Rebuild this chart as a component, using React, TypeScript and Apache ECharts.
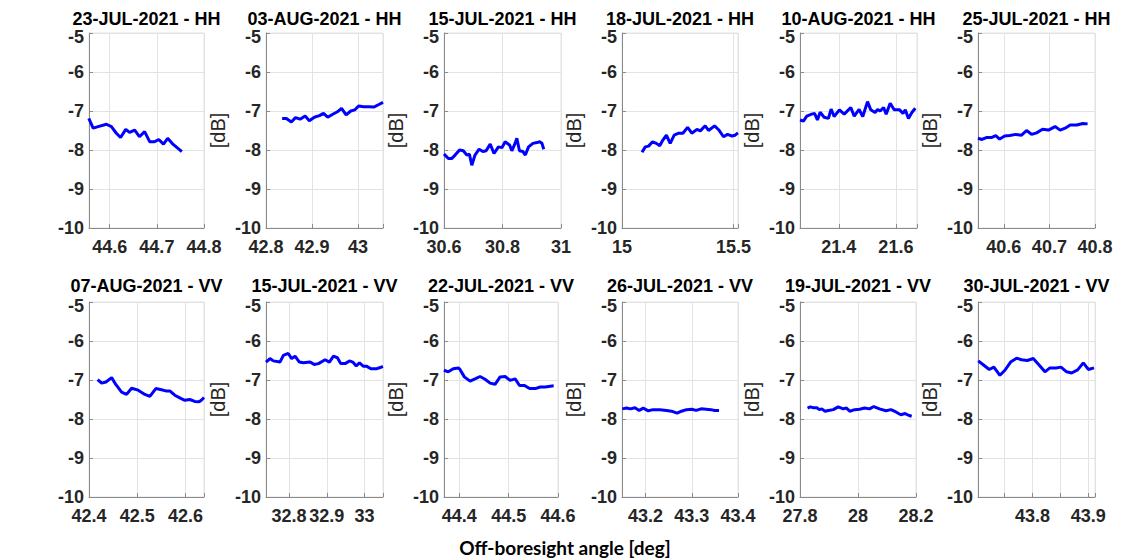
import React, { useEffect, useRef } from 'react';
import * as echarts from 'echarts';

const titles = [
  '23-JUL-2021 - HH', '03-AUG-2021 - HH', '15-JUL-2021 - HH', '18-JUL-2021 - HH', '10-AUG-2021 - HH', '25-JUL-2021 - HH',
  '07-AUG-2021 - VV', '15-JUL-2021 - VV', '22-JUL-2021 - VV', '26-JUL-2021 - VV', '19-JUL-2021 - VV', '30-JUL-2021 - VV',
];

// x-axis extents and tick steps
const xMins = [44.556, 42.8, 30.6, 15, 21.264, 40.5435, 42.4, 32.739, 44.369, 43.149, 27.8, 43.702];
const xMaxs = [44.8, 43.054, 31, 15.52, 21.674, 40.8, 42.6385, 33.049, 44.6, 43.4, 28.2, 43.912];
const xSteps = [0.1, 0.1, 0.2, 0.5, 0.2, 0.1, 0.1, 0.1, 0.1, 0.1, 0.2, 0.05];
const xLabelSteps = [0.1, 0.1, 0.2, 0.5, 0.2, 0.1, 0.1, 0.1, 0.1, 0.1, 0.2, 0.1];
const yTicks = [-10, -9, -8, -7, -6, -5];

const x1 = [44.5556, 44.5648, 44.5754, 44.593, 44.6035, 44.614, 44.623, 44.634, 44.642, 44.653, 44.663, 44.674, 44.685, 44.695, 44.704, 44.714, 44.723, 44.734, 44.753];
const y1 = [-7.19, -7.44, -7.40, -7.34, -7.40, -7.57, -7.68, -7.47, -7.55, -7.49, -7.66, -7.53, -7.79, -7.79, -7.73, -7.85, -7.70, -7.85, -8.04];

const x2 = [42.835, 42.8443, 42.855, 42.864, 42.874, 42.885, 42.894, 42.905, 42.916, 42.925, 42.934, 42.944, 42.955, 42.964, 42.974, 42.984, 42.993, 43.001, 43.012, 43.023, 43.034, 43.044, 43.054];
const y2 = [-7.19, -7.19, -7.28, -7.17, -7.21, -7.13, -7.25, -7.16, -7.12, -7.06, -7.16, -7.09, -7.02, -6.93, -7.10, -7.00, -6.97, -6.87, -6.89, -6.89, -6.90, -6.84, -6.78];

const x3 = [30.6, 30.6149, 30.626, 30.638, 30.653, 30.666, 30.678, 30.687, 30.695, 30.706, 30.72, 30.733, 30.744, 30.758, 30.771, 30.786, 30.798, 30.809, 30.824, 30.832, 30.843, 30.849, 30.858, 30.87, 30.878, 30.889, 30.904, 30.918, 30.927, 30.935, 30.941];
const y3 = [-8.10, -8.22, -8.22, -8.13, -8.00, -8.02, -8.13, -8.11, -8.39, -8.13, -7.98, -8.04, -8.02, -7.85, -8.09, -7.92, -7.94, -7.79, -7.87, -8.02, -7.83, -7.70, -8.02, -8.04, -8.13, -7.92, -7.83, -7.81, -7.79, -7.83, -7.98];

const x4 = [15.0896, 15.1045, 15.119, 15.137, 15.154, 15.169, 15.184, 15.199, 15.216, 15.234, 15.254, 15.273, 15.294, 15.313, 15.336, 15.351, 15.373, 15.388, 15.415, 15.433, 15.455, 15.473, 15.493, 15.507, 15.52];
const y4 = [-8.06, -7.92, -7.90, -7.79, -7.83, -7.89, -7.74, -7.62, -7.83, -7.62, -7.57, -7.57, -7.42, -7.57, -7.47, -7.51, -7.38, -7.50, -7.38, -7.48, -7.66, -7.60, -7.64, -7.62, -7.56];

const x5 = [21.2643, 21.276, 21.2877, 21.305, 21.315, 21.325, 21.3345, 21.3485, 21.3637, 21.373, 21.3836, 21.402, 21.419, 21.442, 21.454, 21.471, 21.484, 21.5006, 21.512, 21.527, 21.536, 21.545, 21.557, 21.566, 21.58, 21.594, 21.613, 21.625, 21.633, 21.644, 21.656, 21.668];
const y5 = [-7.23, -7.26, -7.13, -7.08, -7.06, -7.23, -7.03, -7.16, -7.19, -6.95, -7.14, -6.97, -7.08, -6.91, -7.13, -6.96, -7.14, -6.76, -6.97, -7.04, -6.96, -7.00, -6.91, -7.08, -6.80, -6.97, -6.97, -7.06, -6.97, -7.19, -7.04, -6.93];

const x6 = [40.5434, 40.5522, 40.5618, 40.5728, 40.5824, 40.591, 40.602, 40.613, 40.6265, 40.639, 40.65, 40.661, 40.672, 40.685, 40.698, 40.7125, 40.7235, 40.7346, 40.7456, 40.76, 40.7735, 40.7838];
const y6 = [-7.70, -7.73, -7.68, -7.68, -7.63, -7.72, -7.64, -7.63, -7.60, -7.62, -7.50, -7.60, -7.56, -7.47, -7.49, -7.40, -7.49, -7.44, -7.36, -7.36, -7.32, -7.33];

const x7 = [42.4179, 42.4262, 42.4352, 42.4469, 42.4559, 42.4676, 42.4779, 42.4883, 42.502, 42.5159, 42.5262, 42.5386, 42.5503, 42.5593, 42.5676, 42.5779, 42.5883, 42.5986, 42.609, 42.6193, 42.6283, 42.633, 42.6386];
const y7 = [-6.99, -7.08, -7.05, -6.94, -7.12, -7.31, -7.37, -7.21, -7.26, -7.37, -7.42, -7.22, -7.25, -7.28, -7.28, -7.39, -7.46, -7.52, -7.50, -7.55, -7.56, -7.52, -7.45];

const x8 = [32.739, 32.7496, 32.7584, 32.7761, 32.785, 32.798, 32.807, 32.816, 32.8274, 32.838, 32.8558, 32.8664, 32.8779, 32.8956, 32.907, 32.9177, 32.9283, 32.937, 32.9487, 32.96, 32.969, 32.978, 32.9867, 32.9973, 33.0062, 33.0168, 33.0327, 33.0416, 33.0487];
const y8 = [-6.54, -6.45, -6.51, -6.54, -6.37, -6.32, -6.45, -6.39, -6.54, -6.56, -6.54, -6.60, -6.58, -6.48, -6.54, -6.39, -6.43, -6.58, -6.58, -6.51, -6.54, -6.64, -6.56, -6.65, -6.65, -6.71, -6.71, -6.68, -6.65];

const x9 = [44.3688, 44.3776, 44.3878, 44.398, 44.4014, 44.4102, 44.4217, 44.4319, 44.442, 44.4522, 44.4624, 44.4725, 44.4827, 44.4929, 44.503, 44.5132, 44.522, 44.5322, 44.5424, 44.5539, 44.5641, 44.5742, 44.5844, 44.5912];
const y9 = [-6.75, -6.79, -6.71, -6.69, -6.73, -6.92, -7.03, -6.97, -6.91, -6.98, -7.08, -7.11, -6.92, -6.91, -7.01, -6.97, -7.14, -7.14, -7.22, -7.22, -7.18, -7.18, -7.16, -7.15];

const x10 = [43.1496, 43.159, 43.1676, 43.177, 43.1863, 43.195, 43.2058, 43.2165, 43.231, 43.2453, 43.2561, 43.2683, 43.2777, 43.2885, 43.3, 43.3094, 43.3201, 43.331, 43.3417, 43.3496, 43.359];
const y10 = [-7.74, -7.72, -7.74, -7.71, -7.78, -7.72, -7.79, -7.76, -7.76, -7.78, -7.80, -7.85, -7.80, -7.76, -7.75, -7.78, -7.74, -7.75, -7.76, -7.78, -7.78];

const x11 = [27.8261, 27.8352, 27.8466, 27.858, 27.867, 27.875, 27.8864, 27.8977, 27.9148, 27.9318, 27.9489, 27.9602, 27.9716, 27.9886, 28.0057, 28.0227, 28.0398, 28.0545, 28.0739, 28.0966, 28.1136, 28.1307, 28.1477, 28.1625, 28.1761, 28.1852];
const y11 = [-7.72, -7.69, -7.71, -7.71, -7.76, -7.74, -7.80, -7.78, -7.76, -7.69, -7.74, -7.72, -7.80, -7.76, -7.75, -7.72, -7.74, -7.68, -7.74, -7.79, -7.76, -7.82, -7.89, -7.86, -7.91, -7.93];

const x12 = [43.7024, 43.7114, 43.7222, 43.7305, 43.7413, 43.7503, 43.7605, 43.7713, 43.7802, 43.7904, 43.8012, 43.812, 43.8222, 43.8311, 43.8419, 43.8509, 43.8611, 43.87, 43.8808, 43.891, 43.9, 43.9102];
const y12 = [-6.51, -6.61, -6.73, -6.67, -6.88, -6.75, -6.54, -6.44, -6.48, -6.50, -6.45, -6.62, -6.79, -6.69, -6.69, -6.67, -6.79, -6.82, -6.74, -6.56, -6.73, -6.69];

const xs = [x1, x2, x3, x4, x5, x6, x7, x8, x9, x10, x11, x12];
const ys = [y1, y2, y3, y4, y5, y6, y7, y8, y9, y10, y11, y12];

const xAxisTitle = 'Off-boresight angle [deg]';
const yAxisName = '[dB]';

export default function App() {
  const ref = useRef<HTMLDivElement>(null);
  useEffect(() => {
    if (!ref.current) return;
    const chart = echarts.init(ref.current, undefined, { renderer: 'svg' });
    const lefts = [89, 266, 444, 622, 800, 978];
    const widthsRow1 = [115, 117, 117, 116, 117, 117];
    const widthsRow2 = [115, 117, 114, 116, 116, 117];
    const tops = [33, 302];
    const height = 195;
    const tickFont = { fontFamily: 'Liberation Sans', fontWeight: 'bold' as const, fontSize: 18, color: '#262626' };

    const grids: any[] = [];
    const xAxes: any[] = [];
    const yAxes: any[] = [];
    const series: any[] = [];
    const graphics: any[] = [];
    for (let i = 0; i < 12; i++) {
      const row = Math.floor(i / 6);
      const col = i % 6;
      const w = row === 0 ? widthsRow1[col] : widthsRow2[col];
      grids.push({
        left: lefts[col], top: tops[row], width: w, height,
        show: true, borderColor: '#e3e3e3', borderWidth: 1, backgroundColor: 'transparent',
      });
      const step = xSteps[i];
      const lstep = xLabelSteps[i];
      xAxes.push({
        type: 'value', gridIndex: i, min: xMins[i], max: xMaxs[i],
        minInterval: step, maxInterval: step, splitNumber: 3,
        axisLine: { show: true, onZero: false, lineStyle: { color: '#8a8a8a', width: 1 } },
        axisTick: { show: true, inside: true, length: 4, lineStyle: { color: '#8a8a8a' } },
        splitLine: { show: true, lineStyle: { color: '#e3e3e3', width: 1 } },
        axisLabel: {
          ...tickFont, margin: 10,
          formatter: (v: number) => {
            const r = v / lstep;
            if (Math.abs(r - Math.round(r)) > 1e-6) return '';
            return String(parseFloat(v.toFixed(3)));
          },
        },
      });
      const yMax = yTicks[yTicks.length - 1];
      yAxes.push({
        type: 'value', gridIndex: i, min: yTicks[0], max: yMax, interval: 1,
        name: col === 0 ? '' : yAxisName,
        nameLocation: 'middle', nameGap: 38,
        nameTextStyle: { fontFamily: 'Liberation Sans', fontSize: 20, color: '#262626' },
        axisLine: { show: true, lineStyle: { color: '#8a8a8a', width: 1 } },
        axisTick: { show: true, inside: true, length: 4, lineStyle: { color: '#8a8a8a' } },
        splitLine: { show: true, lineStyle: { color: '#e3e3e3', width: 1 } },
        axisLabel: {
          ...tickFont, margin: 5,
          formatter: (v: number) => (v === yMax ? '{top|' + v + '}' : String(v)),
          rich: { top: { ...tickFont, padding: [8, 0, 0, 0] } },
        },
      });
      series.push({
        type: 'line', xAxisIndex: i, yAxisIndex: i,
        data: xs[i].map((x, k) => [x, ys[i][k]]),
        showSymbol: false, symbol: 'none',
        lineStyle: { color: '#0000ff', width: 3 },
        itemStyle: { color: '#0000ff' },
      });
      graphics.push({
        type: 'text',
        x: lefts[col] + w / 2,
        y: row === 0 ? 19 : 286,
        style: {
          text: titles[i], fill: '#000', fontFamily: 'Liberation Sans', fontWeight: 'bold', fontSize: 18,
          lineHeight: 18, textAlign: 'center', textVerticalAlign: 'middle',
        },
      });
    }
    graphics.push({
      type: 'text', x: 565, y: 547,
      style: {
        text: xAxisTitle, fill: '#000', fontFamily: 'Lato', fontWeight: 'bold', fontSize: 19,
        textAlign: 'center', textVerticalAlign: 'middle',
      },
    });

    chart.setOption({
      animation: false,
      backgroundColor: '#fff',
      grid: grids,
      xAxis: xAxes,
      yAxis: yAxes,
      series,
      graphic: graphics,
    });
    return () => chart.dispose();
  }, []);
  return <div ref={ref} style={{ position: 'fixed', left: 0, top: 0, width: 1131, height: 560 }} />;
}
